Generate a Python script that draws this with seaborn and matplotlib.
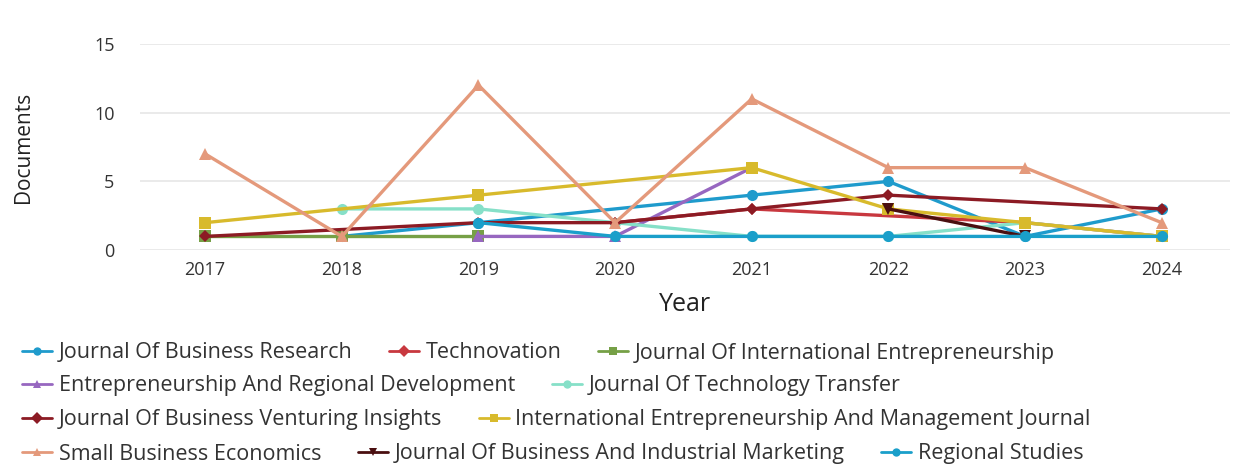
import pandas as pd
import seaborn as sns
import matplotlib.pyplot as plt
from matplotlib.lines import Line2D
import numpy as np

# Documents per year by source (None = no point for that year)
years = [2017, 2018, 2019, 2020, 2021, 2022, 2023, 2024]

sources = [
    'Journal Of Business Research',
    'Technovation',
    'Journal Of International Entrepreneurship',
    'Entrepreneurship And Regional Development',
    'Journal Of Technology Transfer',
    'Journal Of Business Venturing Insights',
    'International Entrepreneurship And Management Journal',
    'Small Business Economics',
    'Journal Of Business And Industrial Marketing',
    'Regional Studies',
]

jbr = [None, 1, 2, None, 4, 5, 1, 3]
technovation = [None, None, None, 2, 3, None, 2, 1]
jie = [1, 1, 1, None, None, None, None, None]
erd = [None, None, 1, 1, 6, None, None, None]
jtt = [None, 3, 3, 2, 1, 1, 2, 1]
jbvi = [1, None, 2, 2, 3, 4, None, 3]
iemj = [2, None, 4, None, 6, 3, 2, 1]
sbe = [7, 1, 12, 2, 11, 6, 6, 2]
jbim = [None, None, None, None, None, 3, 1, None]
regional = [None, None, 2, 1, 1, 1, 1, 1]

values = [jbr, technovation, jie, erd, jtt, jbvi, iemj, sbe, jbim, regional]

colors = ['#1f9bcc', '#c8383f', '#76a046', '#9767c0', '#86e0c8',
          '#8c1b24', '#d8ba2c', '#e4997b', '#4a0f10', '#1a9fca']
markers = ['o', 'D', 's', '^', 'o', 'D', 's', '^', 'v', 'o']
msizes = [8, 6, 8, 8, 8, 6, 9, 9, 8, 8]

rows = [[0, 1, 2], [3, 4], [5, 6], [7, 8, 9]]

# long table, missing years dropped so lines connect over gaps
frames = []
for name, vals in zip(sources, values):
    frames.append(pd.DataFrame({'Year': years, 'Documents': vals, 'Source': name}))
df = pd.concat(frames, ignore_index=True).dropna()

sns.set_style('white')
plt.rcParams['font.family'] = ['Open Sans', 'DejaVu Sans']

fig = plt.figure(figsize=(12.35, 4.72), dpi=100)
ax = fig.add_axes([0.113, 0.470, 0.883, 0.437])

for i, name in enumerate(sources):
    sns.lineplot(data=df[df['Source'] == name], x='Year', y='Documents',
                 color=colors[i], marker=markers[i], markersize=msizes[i],
                 markeredgewidth=0, linewidth=2.4, ax=ax, legend=False)

ax.set_xlim(2016.52, 2024.5)
ax.set_ylim(0, 15)
ax.set_xticks(years)
ax.set_yticks([0, 5, 10, 15])
ax.yaxis.grid(True, color='#e6e6e6', linewidth=1.2)
ax.xaxis.grid(False)
for s in ax.spines.values():
    s.set_visible(False)
ax.tick_params(axis='both', length=0, labelsize=13, colors='#333333')
ax.tick_params(axis='y', pad=18)
ax.tick_params(axis='x', pad=8)
ax.set_xlabel('Year', fontsize=18, color='#222222', labelpad=9)
ax.set_ylabel('Documents', fontsize=15, color='#222222', labelpad=43)

# legend: one row per fig.legend, left aligned like a flow layout
row_y = [1 - 353 / 472, 1 - 386 / 472, 1 - 420 / 472, 1 - 454 / 472]
for r, idx in enumerate(rows):
    handles = [Line2D([0], [0], color=colors[i], marker=markers[i],
                      markersize=6, markeredgewidth=0, linewidth=2.0)
               for i in idx]
    labels = [sources[i] for i in idx]
    fig.legend(handles, labels, loc='center left', bbox_to_anchor=(0.018, row_y[r]),
               ncol=len(idx), frameon=False, fontsize=15.5, handlelength=1.4,
               handletextpad=0.3, columnspacing=1.7, labelcolor='#333333',
               borderaxespad=0, borderpad=0)

fig.savefig('out.png', dpi=100)
